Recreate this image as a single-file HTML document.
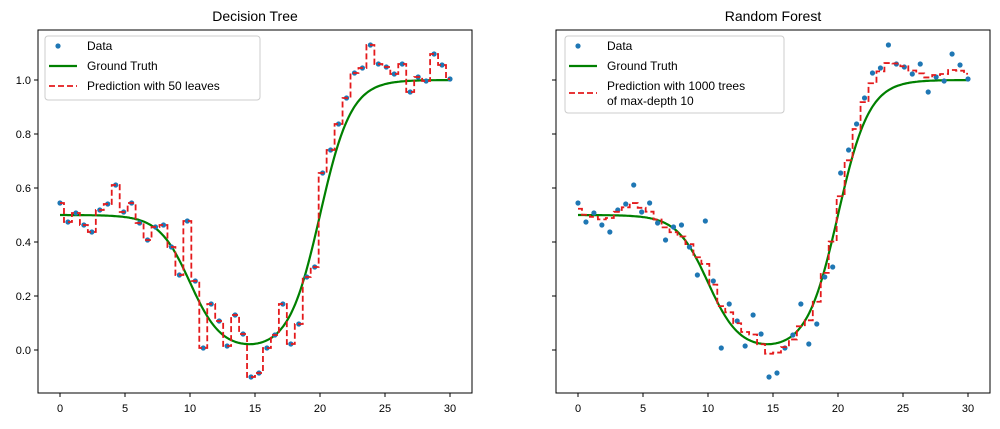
<!DOCTYPE html>
<html><head><meta charset="utf-8"><style>
body{margin:0;background:#fff;}
svg text{font-family:"Liberation Sans","DejaVu Sans",sans-serif;}
</style></head><body>
<svg id="s" width="1000" height="424" xmlns="http://www.w3.org/2000/svg"></svg>
<script>
const py=[203,222,213,225,232,210,204,185,212,203,223,240,227,225,247,275,221,281,348,304,321,346,315,334,377,
373,348,335,304,344,324,277,267,173,150,124,98,73,68,45,64,67,74,64,92,77,81,54,65,79];
const Y=v=>350-v*270;
const vals=py.map(p=>(350-p)/270);
const xs=[];for(let i=0;i<50;i++)xs.push(i*30/49);
function gt(x){return 0.5/(1+Math.exp((x-10)/1.2))+1/(1+Math.exp(-(x-20)/1.2));}
const W=[0.06,0.12,0.17,0.3,0.17,0.12,0.06];
let rf=vals.map((v,i)=>{let s=0;for(let k=-3;k<=3;k++){s+=W[k+3]*vals[Math.min(49,Math.max(0,i+k))];}return s;});
let s='';
function panel(x0,x1,title,leftLabels,mode){
  const X=v=>x0+22+v*(x1-x0-44)/30;
  s+=`<text x="${(x0+x1)/2}" y="21" font-size="14" text-anchor="middle">${title}</text>`;
  for(let t=0;t<=30;t+=5){const x=X(t);s+=`<line x1="${x}" y1="393" x2="${x}" y2="397" stroke="#000"/><text x="${x}" y="412" font-size="11" text-anchor="middle">${t}</text>`;}
  for(let k=0;k<=5;k++){const v=k*0.2,y=Y(v);s+=`<line x1="${x0-4}" y1="${y}" x2="${x0}" y2="${y}" stroke="#000"/>`;if(leftLabels)s+=`<text x="${x0-7}" y="${y+4}" font-size="11" text-anchor="end">${v.toFixed(1)}</text>`;}
  let d='';for(let i=0;i<=300;i++){const x=i/10;d+=(i?'L':'M')+X(x).toFixed(1)+' '+Y(gt(x)).toFixed(1);}
  s+=`<path d="${d}" fill="none" stroke="#008000" stroke-width="2.2"/>`;
  const p=mode?rf:vals;
  let e='M'+X(0)+' '+Y(p[0]);
  for(let i=0;i<49;i++){const m=X((xs[i]+xs[i+1])/2);e+=`L${m} ${Y(p[i])}L${m} ${Y(p[i+1])}`;}
  e+=`L${X(30)} ${Y(p[49])}`;
  vals.forEach((v,i)=>{s+=`<circle cx="${X(xs[i])}" cy="${Y(v)}" r="2.6" fill="#1f77b4"/>`;});
  s+=`<path d="${e}" fill="none" stroke="#e41a1c" stroke-width="1.8" stroke-dasharray="6,3"/>`;
  s+=`<rect x="${x0}" y="30" width="${x1-x0}" height="363" fill="none" stroke="#000" stroke-width="1"/>`;
}
panel(38,472,'Decision Tree',true,0);
panel(556,990,'Random Forest',false,1);
function legend(x,y,w,h,lines){
  s+=`<rect x="${x}" y="${y}" width="${w}" height="${h}" rx="3" fill="#fff" fill-opacity="0.8" stroke="#ccc"/>`;
  s+=`<circle cx="${x+13}" cy="${y+10}" r="2.6" fill="#1f77b4"/><text x="${x+42}" y="${y+14}" font-size="12">Data</text>`;
  s+=`<line x1="${x+4}" y1="${y+30}" x2="${x+32}" y2="${y+30}" stroke="#008000" stroke-width="2.2"/><text x="${x+42}" y="${y+34}" font-size="12">Ground Truth</text>`;
  const ly=lines.length>1?y+57:y+50;
  s+=`<line x1="${x+4}" y1="${ly}" x2="${x+32}" y2="${ly}" stroke="#e41a1c" stroke-width="1.8" stroke-dasharray="6,3"/>`;
  lines.forEach((t,i)=>{s+=`<text x="${x+42}" y="${y+54+i*15}" font-size="12">${t}</text>`;});
}
legend(45,36,215,64,['Prediction with 50 leaves']);
legend(565,36,219,77,['Prediction with 1000 trees','of max-depth 10']);
document.getElementById('s').innerHTML=s;
</script>
</body></html>
